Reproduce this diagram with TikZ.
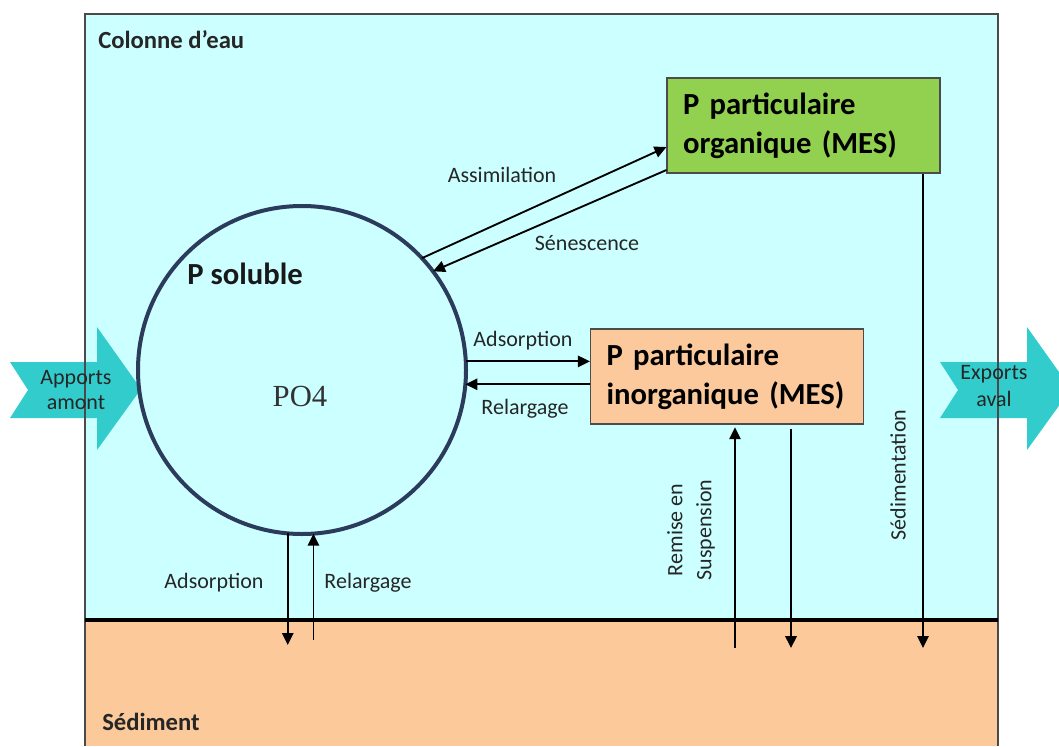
\documentclass[tikz,border=0pt]{standalone}
\usepackage{fontspec}
\setmainfont{Carlito}
\newfontfamily\serifPO{Liberation Serif}
\usetikzlibrary{arrows.meta,calc}
\definecolor{water}{HTML}{CCFFFF}
\definecolor{sed}{HTML}{FCC99B}
\definecolor{boxor}{HTML}{FBC99B}
\definecolor{boxgr}{HTML}{92D050}
\definecolor{turq}{HTML}{33CCCC}
\definecolor{navy}{HTML}{2B3B5C}
\definecolor{bordergray}{HTML}{4A4A4A}
\begin{document}
\begin{tikzpicture}[x=0.75pt,y=-0.75pt,
  lbl/.style={font=\fontsize{16.5}{20}\selectfont, text=black!85, inner sep=0},
  title/.style={font=\fontsize{18.5}{22}\selectfont\bfseries, text=black!85, inner sep=0, anchor=west},
  flow/.style={line width=1.4pt, -{Triangle[length=9pt,width=8.5pt]}},
  pbox/.style={draw=black!70, line width=0.8pt, minimum width=204.75pt, minimum height=71.25pt,
    text width=180.75pt, inner xsep=12pt, align=left, font=\fontsize{23}{29}\selectfont\bfseries},
  chev/.style={fill=turq}]
\useasboundingbox (0,0) rectangle (1059,746);
% backgrounds
\fill[water] (85,14) rectangle (998,620);
\fill[sed] (85,620) rectangle (998,746);
% chevrons
\begin{scope}
\clip (0,0) rectangle (1059,746);
\fill[chev] (10,362) -- (97,362) -- (97,327) -- (141,389) -- (97,450) -- (97,418) -- (10,418) -- (28,390) -- cycle;
\fill[chev] (940,362) -- (1027,362) -- (1027,327) -- (1071,389) -- (1027,450) -- (1027,418) -- (940,418) -- (958,390) -- cycle;
\end{scope}
% borders
\draw[bordergray, line width=1.1pt] (85,746) -- (85,14) -- (998,14) -- (998,746);
\draw[black, line width=2.5pt] (85,620) -- (998,620);
% titles
\node[title] (col) at (98,40) {Colonne d’eau};
\node[title] (sedt) at (102,722) {Sédiment};
% chevron texts
\node[lbl, align=center, font=\fontsize{16.5}{19}\selectfont] (app) at (76,390) {Apports\\amont};
\node[lbl, align=center, font=\fontsize{16.5}{20}\selectfont] (exp) at (994,386) {Exports\\aval};
% main nodes
\node[circle, draw=navy, line width=3pt, minimum size=246pt, inner sep=0, outer sep=0] (ps) at (302,370) {};
\node[font=\fontsize{23}{28}\selectfont\bfseries, text=black!90, inner sep=0] (pst) at (245,274) {P soluble};
\node[font=\serifPO\fontsize{23}{28}\selectfont, text=black!80, inner sep=0] (po4) at (300,396) {PO4};
\node[pbox, fill=boxgr] (og) at (803.5,125.5) {P particulaire\\organique (MES)};
\node[pbox, fill=boxor] (oi) at (727,376.5) {P particulaire\\inorganique (MES)};
% connectors
\draw[flow] (ps.43) -- ($(og.west)+(0,21.5)$);
\draw[flow] ($(og.west)+(0,44.5)$) -- (ps.37);
\draw[flow] (ps.3) -- (ps.3 -| oi.west);
\draw[flow] (oi.west |- ps.-5) -- (ps.-5);
\coordinate (sedA) at (287,645);
\coordinate (sedR) at (314,640);
\draw[flow] (ps.-95) -- (ps.-95 |- sedA);
\draw[flow] (ps.-86 |- sedR) -- (ps.-86);
\coordinate (rs) at (735,648);
\draw[flow, shorten >=2pt] (rs) -- (rs |- oi.south);
\coordinate (sd) at (791,648);
\draw[flow, line width=2pt, shorten <=3pt] (sd |- oi.south) -- (sd);
\coordinate (sg) at (923,648);
\draw[flow] (sg |- og.south) -- (sg);
% labels
\node[lbl] (l1) at (502,175) {Assimilation};
\node[lbl] (l2) at (587,243) {Sénescence};
\node[lbl] (l3) at (523,341) {Adsorption};
\node[lbl] (l4) at (525,409) {Relargage};
\node[lbl] (l5) at (214,583) {Adsorption};
\node[lbl] (l6) at (368,583) {Relargage};
\node[lbl, rotate=90, align=center, font=\fontsize{16.5}{21.75}\selectfont] (l7) at (691,530) {Remise en\\Suspension};
\node[lbl, rotate=90] (l8) at (898,475) {Sédimentation};
\end{tikzpicture}
\end{document}
